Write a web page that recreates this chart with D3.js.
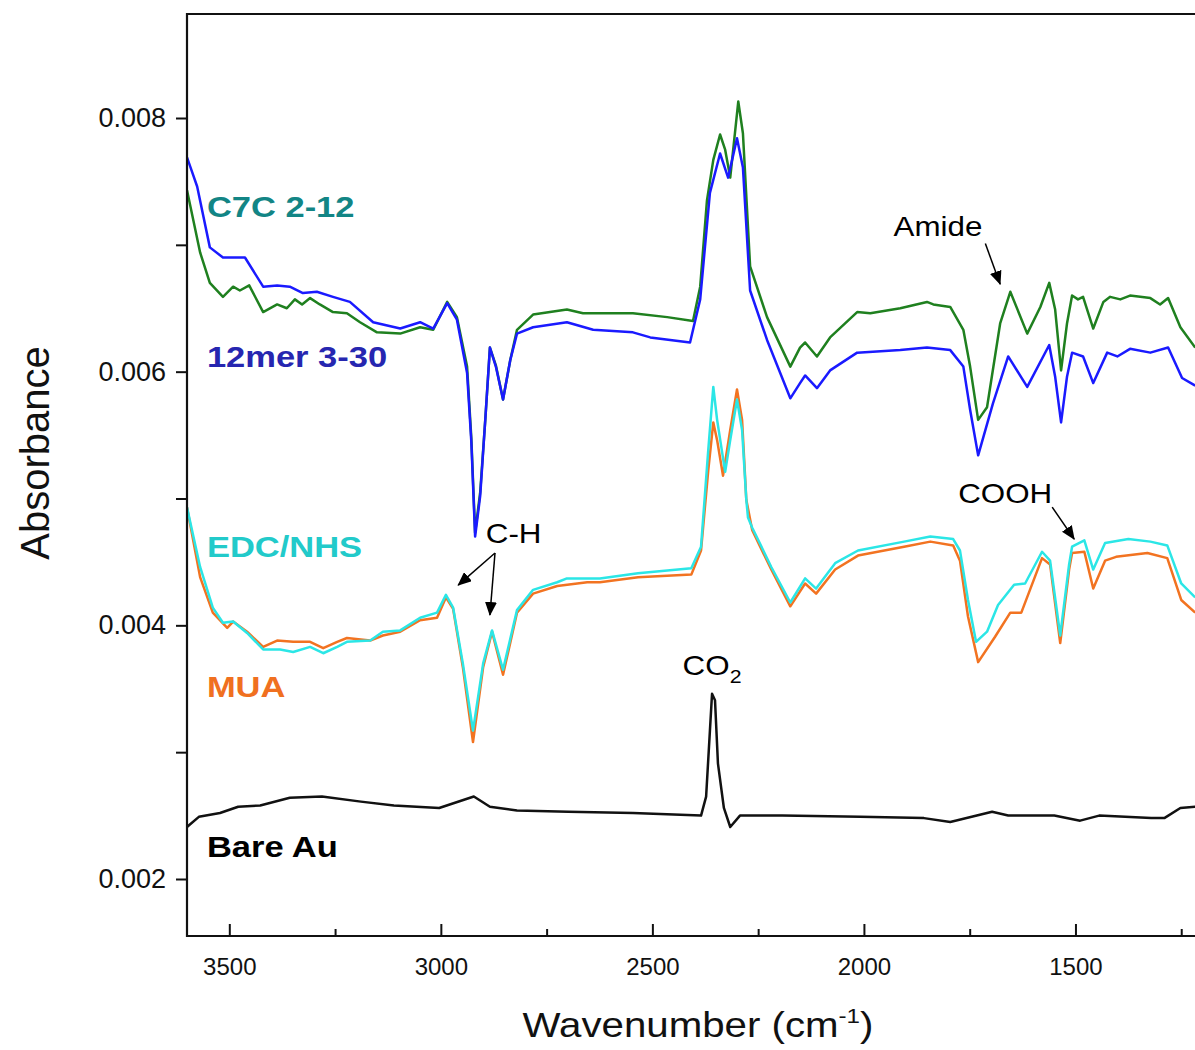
<!DOCTYPE html>
<html>
<head>
<meta charset="utf-8">
<script src="https://cdn.jsdelivr.net/npm/d3@7"></script>
<style>
  html, body { margin: 0; padding: 0; background: #fff; overflow: hidden; }
  text { font-family: Arial, "Liberation Sans", Helvetica, sans-serif; }
</style>
</head>
<body>
<svg id="chart" width="1195" height="1050"></svg>
<script>
// ---------------- data (wavenumber cm^-1, absorbance) ----------------
const greenWn = [3600,3569,3546,3515,3491,3475,3453,3420,3387,3364,3345,3328,3309,3286,3255,3222,3191,3151,3096,3049,3018,2985,2962,2938,2928,2919,2907,2895,2884,2870,2853,2836,2820,2782,2702,2664,2546,2465,2404,2387,2371,2356,2340,2328,2316,2297,2286,2269,2229,2174,2151,2139,2111,2080,2016,1985,1914,1851,1836,1796,1765,1749,1730,1709,1678,1654,1614,1583,1562,1548,1534,1520,1508,1494,1482,1458,1434,1418,1394,1371,1323,1300,1281,1252,1217];
const greenAbs = [0.00743,0.00694,0.00670,0.00659,0.00667,0.00664,0.00668,0.00647,0.00653,0.00650,0.00657,0.00653,0.00658,0.00653,0.00647,0.00646,0.00639,0.00631,0.00630,0.00635,0.00633,0.00655,0.00643,0.00604,0.00548,0.00473,0.00505,0.00562,0.00619,0.00605,0.00578,0.00609,0.00633,0.00645,0.00649,0.00646,0.00646,0.00643,0.00640,0.00667,0.00735,0.00767,0.00787,0.00775,0.00753,0.00813,0.00788,0.00683,0.00643,0.00604,0.00619,0.00623,0.00612,0.00627,0.00647,0.00646,0.00650,0.00655,0.00653,0.00651,0.00633,0.00604,0.00562,0.00572,0.00638,0.00663,0.00630,0.00651,0.00670,0.00649,0.00601,0.00638,0.00660,0.00657,0.00659,0.00634,0.00655,0.00659,0.00657,0.00660,0.00658,0.00653,0.00658,0.00635,0.00619];

const blueWn = [3600,3576,3546,3515,3491,3463,3420,3387,3357,3326,3293,3255,3215,3160,3096,3049,3018,2985,2962,2938,2928,2919,2907,2895,2884,2870,2853,2836,2820,2782,2702,2640,2546,2505,2411,2387,2364,2340,2321,2300,2286,2269,2229,2174,2151,2139,2111,2080,2016,1914,1851,1796,1765,1749,1730,1695,1659,1614,1562,1548,1534,1520,1508,1482,1458,1425,1401,1371,1323,1281,1248,1217];
const blueAbs = [0.00769,0.00746,0.00698,0.00690,0.00690,0.00690,0.00667,0.00668,0.00667,0.00662,0.00663,0.00659,0.00655,0.00639,0.00634,0.00639,0.00634,0.00654,0.00641,0.00599,0.00545,0.00470,0.00502,0.00562,0.00619,0.00604,0.00578,0.00609,0.00630,0.00635,0.00639,0.00633,0.00631,0.00627,0.00623,0.00657,0.00741,0.00772,0.00753,0.00784,0.00761,0.00664,0.00625,0.00579,0.00591,0.00597,0.00587,0.00601,0.00615,0.00617,0.00619,0.00617,0.00604,0.00570,0.00534,0.00575,0.00612,0.00588,0.00621,0.00596,0.00560,0.00596,0.00615,0.00612,0.00591,0.00615,0.00612,0.00618,0.00615,0.00619,0.00595,0.00589];

const cyanWn = [3600,3569,3539,3515,3491,3458,3420,3380,3349,3309,3278,3245,3222,3167,3137,3096,3049,3009,2988,2971,2948,2924,2900,2879,2853,2820,2782,2725,2702,2624,2534,2408,2385,2368,2356,2347,2328,2316,2300,2288,2278,2274,2264,2219,2174,2139,2113,2068,2014,1905,1843,1789,1773,1754,1735,1709,1683,1645,1619,1579,1560,1536,1515,1508,1479,1458,1430,1375,1323,1283,1250,1217];
const cyanAbs = [0.00493,0.00446,0.00414,0.00402,0.00403,0.00394,0.00381,0.00381,0.00379,0.00383,0.00378,0.00383,0.00387,0.00388,0.00395,0.00396,0.00406,0.00410,0.00424,0.00414,0.00370,0.00317,0.00370,0.00396,0.00365,0.00412,0.00428,0.00434,0.00437,0.00437,0.00441,0.00445,0.00462,0.00538,0.00588,0.00562,0.00521,0.00546,0.00578,0.00554,0.00499,0.00485,0.00477,0.00446,0.00418,0.00437,0.00429,0.00449,0.00459,0.00466,0.00470,0.00468,0.00459,0.00420,0.00387,0.00395,0.00416,0.00432,0.00433,0.00458,0.00451,0.00392,0.00448,0.00462,0.00467,0.00444,0.00465,0.00468,0.00466,0.00463,0.00433,0.00422];

const orangeWn = [3600,3569,3539,3505,3491,3458,3420,3387,3349,3309,3278,3245,3222,3167,3137,3096,3049,3009,2988,2971,2948,2924,2900,2879,2853,2820,2782,2725,2654,2624,2534,2408,2385,2368,2356,2347,2333,2316,2300,2288,2278,2264,2219,2174,2139,2113,2068,2014,1905,1843,1789,1773,1754,1730,1690,1654,1628,1579,1560,1536,1515,1508,1479,1458,1430,1404,1330,1283,1250,1217];
const orangeAbs = [0.00493,0.00438,0.00410,0.00398,0.00403,0.00395,0.00383,0.00388,0.00387,0.00387,0.00382,0.00387,0.00390,0.00388,0.00392,0.00395,0.00404,0.00406,0.00422,0.00413,0.00367,0.00308,0.00367,0.00395,0.00361,0.00410,0.00425,0.00431,0.00434,0.00434,0.00438,0.00440,0.00459,0.00522,0.00560,0.00546,0.00518,0.00554,0.00586,0.00562,0.00499,0.00475,0.00444,0.00415,0.00433,0.00425,0.00444,0.00455,0.00462,0.00466,0.00463,0.00451,0.00407,0.00371,0.00391,0.00410,0.00410,0.00453,0.00448,0.00386,0.00444,0.00457,0.00458,0.00429,0.00451,0.00454,0.00457,0.00453,0.00420,0.00410];

const blackWn = [3600,3572,3522,3479,3427,3357,3281,3189,3111,3004,2922,2884,2820,2699,2546,2385,2373,2364,2359,2352,2345,2331,2316,2293,2193,2009,1858,1796,1697,1659,1550,1489,1444,1321,1290,1252,1217];
const blackAbs = [0.00241,0.00249,0.00252,0.00257,0.00258,0.00264,0.00265,0.00261,0.00258,0.00256,0.00265,0.00257,0.00254,0.00253,0.00252,0.00250,0.00265,0.00317,0.00346,0.00341,0.00291,0.00256,0.00241,0.00250,0.00250,0.00249,0.00248,0.00245,0.00253,0.00250,0.00250,0.00246,0.00250,0.00248,0.00248,0.00256,0.00257];

const seriesNames = ["C7C 2-12", "12mer 3-30", "EDC/NHS", "MUA", "Bare Au"];
const xMajorTicks = [3500, 3000, 2500, 2000, 1500];
const xMinorTicks = [3250, 2750, 2250, 1750, 1250];
const yMajorTicks = [0.002, 0.004, 0.006, 0.008];
const yMinorTicks = [0.003, 0.005, 0.007];

// label anchors (data units)
const labelWn = 3553;
const labelAbs = [0.007219, 0.006037, 0.004539, 0.003435, 0.002173];
const annoText = ["Amide", "C-H", "COOH"];
const annoWn = [1825, 2828, 1666];
const annoAbs = [0.00707, 0.004649, 0.004964];
const arrowFromWn = [1713, 2872, 2872, 1555];
const arrowFromAbs = [0.00701, 0.00457, 0.00457, 0.004932];
const arrowToWn = [1678, 2959, 2884, 1503];
const arrowToAbs = [0.00669, 0.004317, 0.004081, 0.00468];
const co2Wn = 2359, co2Abs = 0.003608;

// ---------------- layout ----------------
const svg = d3.select("#chart");
svg.append("rect").attr("width", 1195).attr("height", 1050).attr("fill", "#fff");

const padL = 187, padR = 1287, padT = 14, padB = 936;
const x = d3.scaleLinear().domain([3600, 1000]).range([padL, padR]);
const y = d3.scaleLinear().domain([0.0015506, 0.0088200]).range([padB, padT]);

const zip = (a, b) => a.slice(0, Math.min(a.length, b.length)).map((d, i) => [d, b[i]]);
const line = d3.line().x(d => x(d[0])).y(d => y(d[1]));

const series = [
  { wn: greenWn, ab: greenAbs, color: "#1f801f" },
  { wn: blueWn, ab: blueAbs, color: "#1a1aff" },
  { wn: orangeWn, ab: orangeAbs, color: "#f27321" },
  { wn: cyanWn, ab: cyanAbs, color: "#2be6e6" },
  { wn: blackWn, ab: blackAbs, color: "#111111" }
];

svg.append("clipPath").attr("id", "clip")
  .append("rect").attr("x", padL).attr("y", padT).attr("width", padR - padL).attr("height", padB - padT);

const plot = svg.append("g").attr("clip-path", "url(#clip)");
series.forEach(s => {
  plot.append("path")
    .datum(zip(s.wn, s.ab))
    .attr("fill", "none")
    .attr("stroke", s.color)
    .attr("stroke-width", 2.5)
    .attr("stroke-linejoin", "round")
    .attr("d", line);
});

// ---------------- axes ----------------
const fontTick = 'Arial, "Liberation Sans", sans-serif';
const xAxisMajor = svg.append("g").attr("transform", `translate(0,${padB})`)
  .call(d3.axisBottom(x).tickValues(xMajorTicks).tickSizeInner(-12).tickSizeOuter(0).tickPadding(22).tickFormat(d3.format("d")));
const xAxisMinor = svg.append("g").attr("transform", `translate(0,${padB})`)
  .call(d3.axisBottom(x).tickValues(xMinorTicks).tickSizeInner(-7).tickSizeOuter(0).tickFormat(""));
const yAxisMajor = svg.append("g").attr("transform", `translate(${padL},0)`)
  .call(d3.axisLeft(y).tickValues(yMajorTicks).tickSizeInner(11).tickSizeOuter(0).tickPadding(10).tickFormat(d3.format(".3f")));
const yAxisMinor = svg.append("g").attr("transform", `translate(${padL},0)`)
  .call(d3.axisLeft(y).tickValues(yMinorTicks).tickSizeInner(11).tickSizeOuter(0).tickFormat(""));

[xAxisMajor, xAxisMinor, yAxisMajor, yAxisMinor].forEach(g => {
  g.select(".domain").remove();
  g.selectAll(".tick line").attr("stroke", "#111").attr("stroke-width", 2);
});
xAxisMajor.selectAll(".tick text").attr("font-size", 24).attr("fill", "#111").attr("font-family", fontTick);
yAxisMajor.selectAll(".tick text").attr("font-size", 27).attr("fill", "#111").attr("font-family", fontTick);

// frame (right side extends beyond view)
svg.append("path")
  .attr("d", `M${padR},${padT} L${padL},${padT} L${padL},${padB} L${padR},${padB}`)
  .attr("fill", "none").attr("stroke", "#111").attr("stroke-width", 2.2);

// axis titles
const xt = svg.append("text")
  .attr("transform", `translate(698,1037) scale(1.15,1)`)
  .attr("text-anchor", "middle").attr("font-size", 35).attr("fill", "#111");
xt.append("tspan").text("Wavenumber (cm");
xt.append("tspan").attr("font-size", 21).attr("dy", -14).text("-1");
xt.append("tspan").attr("dy", 14).text(")");

svg.append("text")
  .attr("transform", `translate(49,453) rotate(-90)`)
  .attr("text-anchor", "middle").attr("font-size", 40).attr("fill", "#111")
  .text("Absorbance");

// ---------------- series labels ----------------
const labelColors = ["#128585", "#2626b0", "#22caca", "#f07020", "#000000"];
seriesNames.forEach((name, i) => {
  svg.append("text")
    .attr("transform", `translate(${x(labelWn)},${y(labelAbs[i])}) scale(1.15,1)`)
    .attr("font-size", 30).attr("font-weight", "bold").attr("fill", labelColors[i])
    .text(name);
});

// ---------------- annotations ----------------
svg.append("defs").append("marker")
  .attr("id", "arrow").attr("markerUnits", "userSpaceOnUse")
  .attr("markerWidth", 14).attr("markerHeight", 12)
  .attr("refX", 13).attr("refY", 6).attr("orient", "auto")
  .append("path").attr("d", "M0,0 L14,6 L0,12 Z").attr("fill", "#000");

annoText.forEach((t, i) => {
  svg.append("text")
    .attr("transform", `translate(${x(annoWn[i])},${y(annoAbs[i])}) scale(1.12,1)`)
    .attr("text-anchor", "middle").attr("font-size", 28).attr("fill", "#000")
    .text(t);
});
arrowFromWn.forEach((w, i) => {
  svg.append("line")
    .attr("x1", x(w)).attr("y1", y(arrowFromAbs[i]))
    .attr("x2", x(arrowToWn[i])).attr("y2", y(arrowToAbs[i]))
    .attr("stroke", "#000").attr("stroke-width", 1.5)
    .attr("marker-end", "url(#arrow)");
});
const co2 = svg.append("text")
  .attr("transform", `translate(${x(co2Wn)},${y(co2Abs)}) scale(1.12,1)`)
  .attr("text-anchor", "middle").attr("font-size", 28).attr("fill", "#000");
co2.append("tspan").text("CO");
co2.append("tspan").attr("font-size", 19).attr("dy", 8).text("2");
</script>
</body>
</html>
